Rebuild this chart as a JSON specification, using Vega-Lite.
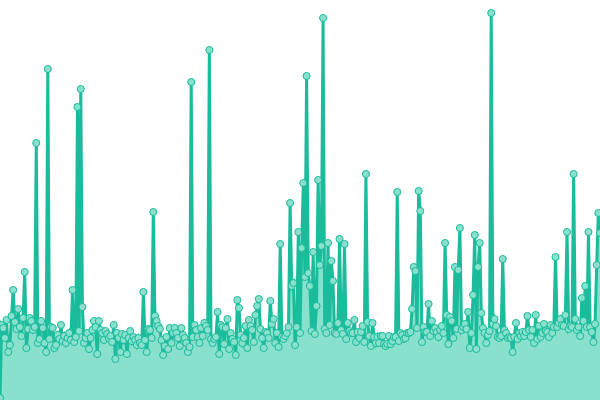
{
"$schema":"https://vega.github.io/schema/vega-lite/v6.json",
"width":600,"height":400,"padding":0,
"autosize":{"type":"none"},
"background":"white",
"config":{"view":{"stroke":null}},
"data":{"values":[
{"i":0,"v":2},{"i":1,"v":75},{"i":2,"v":72},{"i":3,"v":62},{"i":4,"v":80},{"i":5,"v":48},{"i":6,"v":55},{"i":7,"v":84},{"i":8,"v":110},{"i":9,"v":78},
{"i":10,"v":71},{"i":11,"v":91},{"i":12,"v":73},{"i":13,"v":64},{"i":14,"v":82},{"i":15,"v":128},{"i":16,"v":52},{"i":17,"v":71},{"i":18,"v":82},{"i":19,"v":79},
{"i":20,"v":70},{"i":21,"v":73},{"i":22,"v":257},{"i":23,"v":57},{"i":24,"v":61},{"i":25,"v":79},{"i":26,"v":72},{"i":27,"v":57},{"i":28,"v":48},{"i":29,"v":331},
{"i":30,"v":61},{"i":31,"v":73},{"i":32,"v":72},{"i":33,"v":52},{"i":34,"v":55},{"i":35,"v":65},{"i":36,"v":61},{"i":37,"v":75},{"i":38,"v":59},{"i":39,"v":64},
{"i":40,"v":57},{"i":41,"v":62},{"i":42,"v":67},{"i":43,"v":60},{"i":44,"v":110},{"i":45,"v":58},{"i":46,"v":63},{"i":47,"v":293},{"i":48,"v":69},{"i":49,"v":311},
{"i":50,"v":93},{"i":51,"v":57},{"i":52,"v":62},{"i":53,"v":67},{"i":54,"v":51},{"i":55,"v":62},{"i":56,"v":70},{"i":57,"v":79},{"i":58,"v":73},{"i":59,"v":46},
{"i":60,"v":79},{"i":61,"v":70},{"i":62,"v":67},{"i":63,"v":60},{"i":64,"v":69},{"i":65,"v":66},{"i":66,"v":62},{"i":67,"v":64},{"i":68,"v":58},{"i":69,"v":75},
{"i":70,"v":41},{"i":71,"v":67},{"i":72,"v":62},{"i":73,"v":48},{"i":74,"v":66},{"i":75,"v":60},{"i":76,"v":65},{"i":77,"v":46},{"i":78,"v":62},{"i":79,"v":69},
{"i":80,"v":59},{"i":81,"v":63},{"i":82,"v":60},{"i":83,"v":55},{"i":84,"v":62},{"i":85,"v":57},{"i":86,"v":55},{"i":87,"v":108},{"i":88,"v":60},{"i":89,"v":48},
{"i":90,"v":71},{"i":91,"v":70},{"i":92,"v":62},{"i":93,"v":188},{"i":94,"v":84},{"i":95,"v":79},{"i":96,"v":74},{"i":97,"v":71},{"i":98,"v":60},{"i":99,"v":45},
{"i":100,"v":54},{"i":101,"v":63},{"i":102,"v":51},{"i":103,"v":72},{"i":104,"v":57},{"i":105,"v":67},{"i":106,"v":72},{"i":107,"v":67},{"i":108,"v":62},{"i":109,"v":54},
{"i":110,"v":72},{"i":111,"v":65},{"i":112,"v":62},{"i":113,"v":57},{"i":114,"v":48},{"i":115,"v":53},{"i":116,"v":318},{"i":117,"v":63},{"i":118,"v":75},{"i":119,"v":70},
{"i":120,"v":63},{"i":121,"v":57},{"i":122,"v":72},{"i":123,"v":64},{"i":124,"v":77},{"i":125,"v":74},{"i":126,"v":70},{"i":127,"v":350},{"i":128,"v":61},{"i":129,"v":57},
{"i":130,"v":61},{"i":131,"v":63},{"i":132,"v":88},{"i":133,"v":46},{"i":134,"v":75},{"i":135,"v":73},{"i":136,"v":56},{"i":137,"v":72},{"i":138,"v":81},{"i":139,"v":51},
{"i":140,"v":67},{"i":141,"v":61},{"i":142,"v":58},{"i":143,"v":45},{"i":144,"v":100},{"i":145,"v":92},{"i":146,"v":65},{"i":147,"v":57},{"i":148,"v":62},{"i":149,"v":74},
{"i":150,"v":52},{"i":151,"v":80},{"i":152,"v":74},{"i":153,"v":70},{"i":154,"v":58},{"i":155,"v":85},{"i":156,"v":94},{"i":157,"v":101},{"i":158,"v":71},{"i":159,"v":62},
{"i":160,"v":52},{"i":161,"v":68},{"i":162,"v":67},{"i":163,"v":62},{"i":164,"v":99},{"i":165,"v":76},{"i":166,"v":81},{"i":167,"v":57},{"i":168,"v":67},{"i":169,"v":53},
{"i":170,"v":156},{"i":171,"v":63},{"i":172,"v":61},{"i":173,"v":64},{"i":174,"v":67},{"i":175,"v":73},{"i":176,"v":197},{"i":177,"v":114},{"i":178,"v":117},{"i":179,"v":55},
{"i":180,"v":73},{"i":181,"v":168},{"i":182,"v":67},{"i":183,"v":152},{"i":184,"v":217},{"i":185,"v":123},{"i":186,"v":324},{"i":187,"v":127},{"i":188,"v":114},{"i":189,"v":69},
{"i":190,"v":148},{"i":191,"v":66},{"i":192,"v":94},{"i":193,"v":220},{"i":194,"v":135},{"i":195,"v":154},{"i":196,"v":382},{"i":197,"v":71},{"i":198,"v":67},{"i":199,"v":157},
{"i":200,"v":75},{"i":201,"v":139},{"i":202,"v":119},{"i":203,"v":67},{"i":204,"v":66},{"i":205,"v":77},{"i":206,"v":161},{"i":207,"v":70},{"i":208,"v":66},{"i":209,"v":156},
{"i":210,"v":61},{"i":211,"v":77},{"i":212,"v":69},{"i":213,"v":67},{"i":214,"v":67},{"i":215,"v":80},{"i":216,"v":58},{"i":217,"v":68},{"i":218,"v":62},{"i":219,"v":68},
{"i":220,"v":74},{"i":221,"v":58},{"i":222,"v":226},{"i":223,"v":78},{"i":224,"v":64},{"i":225,"v":54},{"i":226,"v":77},{"i":227,"v":63},{"i":228,"v":57},{"i":229,"v":63},
{"i":230,"v":57},{"i":231,"v":64},{"i":232,"v":64},{"i":233,"v":56},{"i":234,"v":54},{"i":235,"v":56},{"i":236,"v":64},{"i":237,"v":56},{"i":238,"v":59},{"i":239,"v":63},
{"i":240,"v":63},{"i":241,"v":208},{"i":242,"v":59},{"i":243,"v":67},{"i":244,"v":65},{"i":245,"v":61},{"i":246,"v":62},{"i":247,"v":67},{"i":248,"v":67},{"i":249,"v":68},
{"i":250,"v":91},{"i":251,"v":133},{"i":252,"v":129},{"i":253,"v":72},{"i":254,"v":209},{"i":255,"v":189},{"i":256,"v":58},{"i":257,"v":73},{"i":258,"v":68},{"i":259,"v":68},
{"i":260,"v":96},{"i":261,"v":64},{"i":262,"v":79},{"i":263,"v":69},{"i":264,"v":72},{"i":265,"v":68},{"i":266,"v":63},{"i":267,"v":70},{"i":268,"v":74},{"i":269,"v":67},
{"i":270,"v":157},{"i":271,"v":85},{"i":272,"v":56},{"i":273,"v":83},{"i":274,"v":79},{"i":275,"v":62},{"i":276,"v":133},{"i":277,"v":71},{"i":278,"v":130},{"i":279,"v":172},
{"i":280,"v":70},{"i":281,"v":73},{"i":282,"v":76},{"i":283,"v":71},{"i":284,"v":88},{"i":285,"v":52},{"i":286,"v":67},{"i":287,"v":105},{"i":288,"v":165},{"i":289,"v":51},
{"i":290,"v":133},{"i":291,"v":157},{"i":292,"v":87},{"i":293,"v":72},{"i":294,"v":67},{"i":295,"v":57},{"i":296,"v":65},{"i":297,"v":69},{"i":298,"v":387},{"i":299,"v":76},
{"i":300,"v":81},{"i":301,"v":74},{"i":302,"v":63},{"i":303,"v":62},{"i":304,"v":64},{"i":305,"v":141},{"i":306,"v":70},{"i":307,"v":67},{"i":308,"v":62},{"i":309,"v":63},
{"i":310,"v":62},{"i":311,"v":48},{"i":312,"v":63},{"i":313,"v":77},{"i":314,"v":61},{"i":315,"v":67},{"i":316,"v":64},{"i":317,"v":68},{"i":318,"v":64},{"i":319,"v":68},
{"i":320,"v":84},{"i":321,"v":70},{"i":322,"v":63},{"i":323,"v":70},{"i":324,"v":57},{"i":325,"v":85},{"i":326,"v":61},{"i":327,"v":74},{"i":328,"v":63},{"i":329,"v":67},
{"i":330,"v":76},{"i":331,"v":69},{"i":332,"v":68},{"i":333,"v":63},{"i":334,"v":75},{"i":335,"v":67},{"i":336,"v":73},{"i":337,"v":143},{"i":338,"v":73},{"i":339,"v":77},
{"i":340,"v":81},{"i":341,"v":75},{"i":342,"v":74},{"i":343,"v":85},{"i":344,"v":168},{"i":345,"v":71},{"i":346,"v":74},{"i":347,"v":73},{"i":348,"v":226},{"i":349,"v":81},
{"i":350,"v":70},{"i":351,"v":73},{"i":352,"v":64},{"i":353,"v":102},{"i":354,"v":79},{"i":355,"v":114},{"i":356,"v":73},{"i":357,"v":168},{"i":358,"v":73},{"i":359,"v":68},
{"i":360,"v":58},{"i":361,"v":76},{"i":362,"v":135},{"i":363,"v":187},{"i":364,"v":167}
]},
"encoding":{
"x":{"field":"i","type":"quantitative","scale":{"domain":[0,364],"nice":false,"zero":false},"axis":null},
"y":{"field":"v","type":"quantitative","scale":{"domain":[0,400],"nice":false},"axis":null}
},
"layer":[
{"mark":{"type":"area","color":"#88e0cd","opacity":1}},
{"mark":{"type":"line","color":"#1abc9c","strokeWidth":3}},
{"mark":{"type":"point","filled":true,"fill":"#88e0cd","stroke":"#1abc9c","strokeWidth":1,"size":50,"opacity":1}}
]
}
